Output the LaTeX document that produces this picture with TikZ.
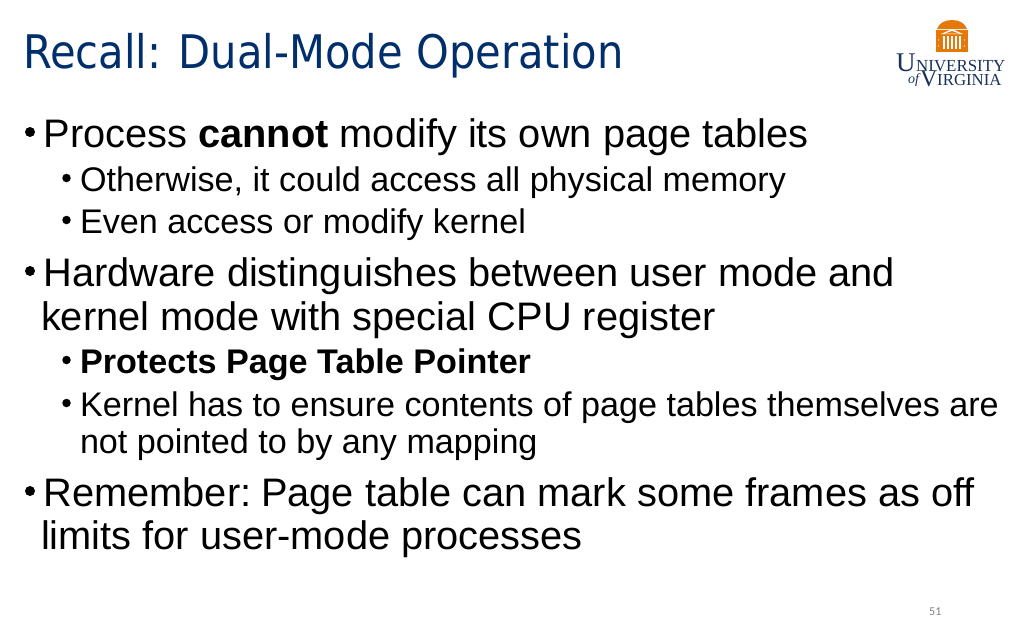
\documentclass[tikz,border=0pt]{standalone}
\usepackage{fontspec}
\setmainfont{Liberation Sans}
\newfontfamily\titlefont{DejaVu Sans Condensed}
\newfontfamily\logofont{Liberation Serif}
\newfontfamily\pagefont{Carlito}
\definecolor{titleblue}{RGB}{0,47,108}
\definecolor{uvaorange}{RGB}{229,120,10}
\definecolor{uvablue}{RGB}{25,50,90}
\tikzset{
 txt/.style={anchor=base west,inner sep=0pt,outer sep=0pt,text=black},
 big/.style={txt,font=\fontsize{39.8}{40}\selectfont},
 small/.style={txt,font=\fontsize{34.15}{34}\selectfont},
 bulb/.style={circle,fill=black,draw=none,inner sep=0pt},
 bigb/.style={bulb,minimum size=10pt},
 smallb/.style={bulb,minimum size=8.5pt},
 titletxt/.style={anchor=base west,inner sep=0pt,text=titleblue,font=\titlefont\fontsize{46.3}{46}\selectfont},
 logotxt/.style={anchor=base west,inner sep=0pt,text=uvablue},
}
\begin{document}
\begin{tikzpicture}[x=1pt,y=-1pt]
\useasboundingbox (0,0) rectangle (1024,640);
\fill[white] (0,0) rectangle (1024,640);
\node[titletxt] (title) at (23,68) {Recall: Dual-Mode Operation};
% logo
\fill[uvaorange] (937,29) .. controls (939,23) and (945,20) .. (952,20) .. controls (959,20) and (965,23) .. (967,29) -- cycle;
\fill[uvaorange] (936,30) rectangle (968,52);
\fill[white] (952,29) -- (941,34) -- (963,34) -- cycle;
\fill[uvaorange] (952,31) -- (945,33.5) -- (959,33.5) -- cycle;
\foreach \xx in {943,947,951,955,959}{\fill[white] (\xx,36) rectangle (\xx+2,49);}
\foreach \xx in {938.5,964.5}{\fill[white] (\xx,40) circle[radius=.6];\fill[white] (\xx,46) circle[radius=.6];}
\node[logotxt,font=\logofont\fontsize{27}{27}\selectfont] (u1) at (896,71) {U};
\node[logotxt,font=\logofont\fontsize{16.9}{17}\selectfont] (u2) at (916,71) {NIVERSITY};
\node[logotxt,font=\logofont\itshape\fontsize{14}{14}\selectfont] (of) at (908,83) {of};
\node[logotxt,font=\logofont\fontsize{24}{24}\selectfont] (v1) at (920,86) {V};
\node[logotxt,font=\logofont\fontsize{16.8}{17}\selectfont] (v2) at (937,85) {IRGINIA};
% body
\node[bigb] (b1) at (30,132) {};
\node[big] (t1) at (43.5,147) {Process \textbf{cannot} modify its own page tables};
\node[smallb] (b2) at (66.5,178) {};
\node[small] (t2) at (80,191) {Otherwise, it could access all physical memory};
\node[smallb] (b3) at (66.5,220) {};
\node[small] (t3) at (80,233) {Even access or modify kernel};
\node[bigb] (b4) at (30,271) {};
\node[big] (t4) at (43.5,286) {Hardware distinguishes between user mode and};
\node[big] (t5) at (41,330) {kernel mode with special CPU register};
\node[smallb] (b5) at (66.5,360) {};
\node[small] (t6) at (80,373) {\textbf{Protects Page Table Pointer}};
\node[smallb] (b6) at (66.5,403) {};
\node[small] (t7) at (80,416) {Kernel has to ensure contents of page tables themselves are};
\node[small] (t8) at (80,453) {not pointed to by any mapping};
\node[bigb] (b7) at (30,491) {};
\node[big] (t9) at (43.5,506) {Remember:\hspace{-5pt} Page table can mark some frames as off};
\node[big] (t10) at (41,549) {limits for user-mode processes};
\node[anchor=base west,inner sep=0pt,text=black!50,font=\pagefont\fontsize{12}{12}\selectfont] (pg) at (929,615) {51};
\end{tikzpicture}
\end{document}
